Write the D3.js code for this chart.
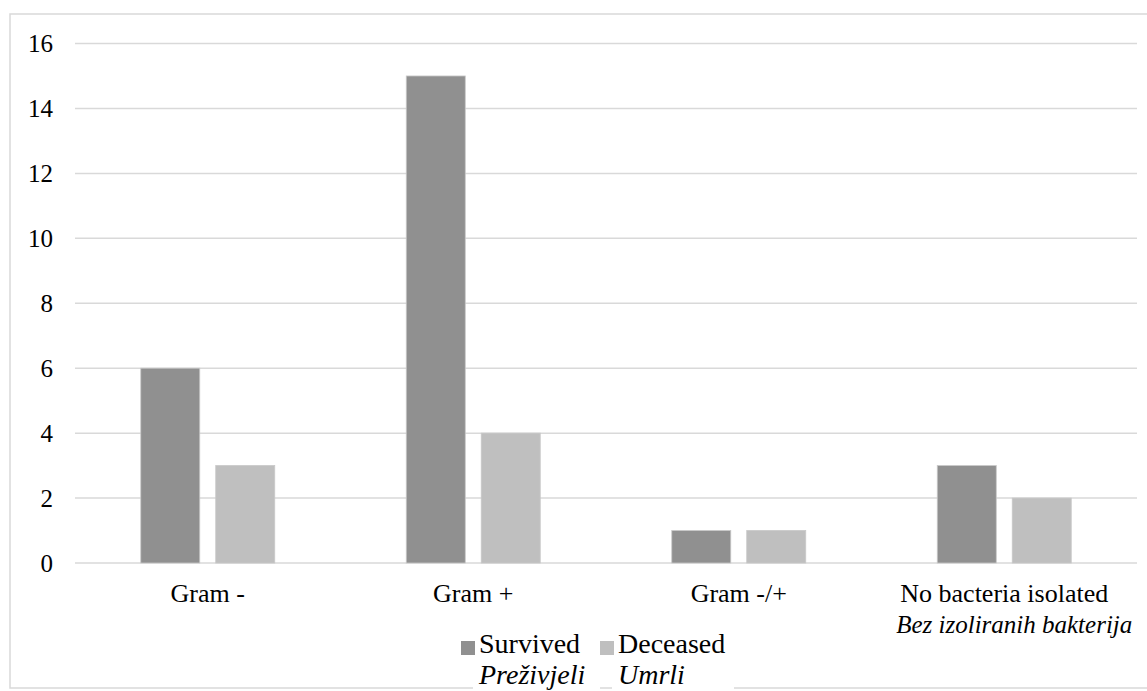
<!doctype html>
<html>
<head>
<meta charset="UTF-8">
<title>Bacteria chart</title>
<script src="https://d3js.org/d3.v7.min.js"></script>
<style>
  body { margin: 0; background: #fff; }
</style>
</head>
<body>
<script>
  var categories = ["Gram -", "Gram +", "Gram -/+", "No bacteria isolated"];
  var subLabels = ["", "", "", "Bez izoliranih bakterija"];
  var survived = [6, 15, 1, 3];
  var deceased = [3, 4, 1, 2];
  var seriesNames = ["Survived", "Deceased"];
  var seriesSub = ["Preživjeli", "Umrli"];
  var yTicks = [0, 2, 4, 6, 8, 10, 12, 14, 16];

  var colors = ["#909090", "#bfbfbf"];
  var W = 1147, H = 691;
  var FONT = "'Liberation Serif', 'Times New Roman', Times, 'DejaVu Serif', serif";

  var svg = d3.select("body").append("svg")
    .attr("width", W).attr("height", H)
    .attr("font-family", FONT);

  // outer frame
  svg.append("rect")
    .attr("x", 10).attr("y", 14).attr("width", 1150).attr("height", 674)
    .attr("fill", "none").attr("stroke", "#d9d9d9").attr("stroke-width", 1.5);

  var x = d3.scaleBand().domain(categories).range([75, 1137]);
  var y = d3.scaleLinear().domain([0, 16]).range([563, 43.5]);

  // gridlines
  svg.selectAll(".grid").data(yTicks).enter().append("line")
    .attr("x1", 75).attr("x2", 1137)
    .attr("y1", function(d){ return y(d); })
    .attr("y2", function(d){ return y(d); })
    .attr("stroke", "#d9d9d9").attr("stroke-width", 1.5);

  svg.selectAll(".ytick").data(yTicks).enter().append("text")
    .attr("x", 53).attr("y", function(d){ return y(d) + 8.5; })
    .attr("text-anchor", "end").attr("font-size", 25)
    .text(function(d){ return d; });

  var sub = d3.scaleBand().domain([0, 1]).range([0, x.bandwidth()])
    .paddingInner(0.213).paddingOuter(0.877);

  var data = [survived, deceased];
  data.forEach(function(vals, s){
    svg.selectAll(".bar" + s).data(vals).enter().append("rect")
      .attr("x", function(d, i){ return x(categories[i]) + sub(s); })
      .attr("width", sub.bandwidth())
      .attr("y", function(d){ return y(d); })
      .attr("height", function(d){ return y(0) - y(d); })
      .attr("fill", colors[s])
      .attr("stroke", "#c8c8c8").attr("stroke-width", 0.8);
  });

  // category labels
  svg.selectAll(".cat").data(categories).enter().append("text")
    .attr("x", function(d){ return x(d) + x.bandwidth() / 2; })
    .attr("y", 602).attr("text-anchor", "middle").attr("font-size", 26)
    .text(function(d){ return d; });
  svg.selectAll(".catsub").data(subLabels).enter().append("text")
    .attr("x", function(d, i){ return x(categories[i]) + x.bandwidth() / 2 + 10; })
    .attr("y", 633).attr("text-anchor", "middle").attr("font-size", 25)
    .attr("font-style", "italic")
    .text(function(d){ return d; });

  // legend
  var legX = [461, 600];
  var legW = [127, 122];
  seriesNames.forEach(function(name, i){
    var g = svg.append("g");
    g.append("rect").attr("x", legX[i] + 12).attr("y", 630)
      .attr("width", legW[i]).attr("height", 61).attr("fill", "#fff");
    g.append("rect").attr("x", legX[i]).attr("y", 641)
      .attr("width", 14).attr("height", 14).attr("fill", colors[i]);
    g.append("text").attr("x", legX[i] + 18).attr("y", 653)
      .attr("font-size", 28).text(name);
    g.append("text").attr("x", legX[i] + 18).attr("y", 684)
      .attr("font-size", 28).attr("font-style", "italic").text(seriesSub[i]);
  });
</script>
</body>
</html>
